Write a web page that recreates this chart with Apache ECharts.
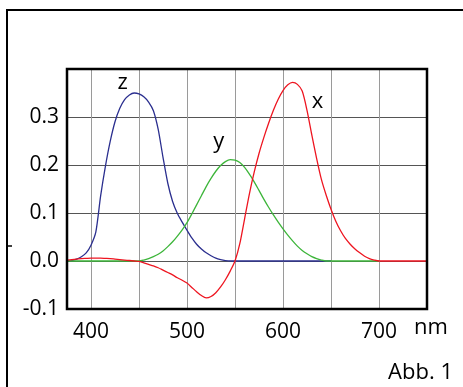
<!DOCTYPE html>
<html>
<head>
<meta charset="utf-8">
<script src="https://cdn.jsdelivr.net/npm/echarts@6/dist/echarts.min.js"></script>
<style>
html,body{margin:0;padding:0;background:#fff;}
#chart{width:463px;height:387px;}
</style>
</head>
<body>
<div id="chart"></div>
<script>
// Wavelengths (nm), 5 nm steps
const wavelengths = [];
for (let w = 375; w <= 750; w += 5) wavelengths.push(w);

// z (blue), 375..650
const zValues = [
  0.000, 0.001, 0.004, 0.009, 0.017, 0.033, 0.060, 0.135, 0.197, 0.249,
  0.290, 0.318, 0.336, 0.346, 0.350, 0.348, 0.342, 0.331, 0.313, 0.274,
  0.216, 0.162, 0.124, 0.099, 0.081, 0.064, 0.048, 0.035, 0.025, 0.017,
  0.011, 0.006, 0.003, 0.001, 0.000, 0.000, 0.000, 0.000, 0.000, 0.000,
  0.000, 0.000, 0.000, 0.000, 0.000, 0.000, 0.000, 0.000, 0.000, 0.000,
  0.000, 0.000, 0.000, 0.000, 0.000, 0.000
];
// y (green), 375..700
const yValues = [
  0.000, 0.000, 0.000, 0.000, 0.000, 0.000, 0.000, 0.000, 0.000, 0.000,
  0.000, 0.000, 0.000, 0.000, 0.000, 0.000, 0.002, 0.005, 0.009, 0.014,
  0.021, 0.030, 0.040, 0.052, 0.065, 0.080, 0.098, 0.117, 0.136, 0.155,
  0.172, 0.187, 0.199, 0.207, 0.211, 0.210, 0.205, 0.195, 0.181, 0.165,
  0.147, 0.129, 0.112, 0.096, 0.081, 0.067, 0.054, 0.042, 0.031, 0.022,
  0.015, 0.009, 0.005, 0.002, 0.000, 0.000, 0.000, 0.000, 0.000, 0.000,
  0.000, 0.000, 0.000, 0.000, 0.000, 0.000
];
// x (red), 375..750
const xValues = [
  0.002, 0.003, 0.004, 0.005, 0.0055, 0.006, 0.006, 0.006, 0.0055, 0.005,
  0.004, 0.003, 0.002, 0.001, 0.000, -0.001, -0.004, -0.007, -0.010, -0.014,
  -0.019, -0.024, -0.029, -0.035, -0.040, -0.046, -0.055, -0.064, -0.072, -0.077,
  -0.074, -0.066, -0.054, -0.039, -0.021, 0.000, 0.036, 0.088, 0.140, 0.185,
  0.224, 0.257, 0.287, 0.314, 0.337, 0.355, 0.367, 0.372, 0.368, 0.354,
  0.314, 0.263, 0.214, 0.170, 0.137, 0.108, 0.083, 0.063, 0.047, 0.035,
  0.025, 0.017, 0.010, 0.005, 0.002, 0.000, 0.000, 0.000, 0.000, 0.000,
  0.000, 0.000, 0.000, 0.000, 0.000, 0.000
];

const xLabelValues = [400, 500, 600, 700];
const yTickLabels = ['-0.1', '0.0', '0.1', '0.2', '0.3'];
const curveLabelPos = { z: [433, 0.371], y: [533, 0.248], x: [636, 0.332] };

const FONT = '"Open Sans", "DejaVu Sans", sans-serif';
const COLORS = { z: '#2b2f8f', y: '#3db53a', x: '#ee1520' };

function pairs(vals) {
  return wavelengths.map((w, i) => [w, vals[i]]).filter(p => p[1] !== undefined);
}
function mkSeries(name, vals) {
  return {
    name: name, type: 'line', data: pairs(vals),
    showSymbol: false, symbol: 'none', smooth: 0.25,
    lineStyle: { color: COLORS[name], width: 1.3 },
    itemStyle: { color: COLORS[name] },
    z: 3, silent: true, animation: false,
    markPoint: {
      symbol: 'circle', symbolSize: 1, silent: true, animation: false,
      itemStyle: { color: 'transparent' },
      data: [{
        coord: curveLabelPos[name],
        label: { show: true, position: 'inside', formatter: name,
                 fontFamily: FONT, fontSize: 22, color: '#000' }
      }]
    }
  };
}

const chart = echarts.init(document.getElementById('chart'), null, { renderer: 'canvas' });
chart.setOption({
  backgroundColor: '#fff',
  animation: false,
  grid: { left: 67, top: 69, width: 360, height: 240, show: true,
          borderColor: '#000', borderWidth: 2.5, backgroundColor: 'transparent', z: 4 },
  xAxis: {
    type: 'value', min: 375, max: 750, interval: 25,
    axisLine: { show: false }, axisTick: { show: false },
    axisLabel: {
      margin: 13, fontFamily: FONT, fontSize: 21, color: '#000',
      formatter: v => xLabelValues.indexOf(v) >= 0 ? String(v) : ''
    },
    splitLine: { show: true, lineStyle: { color: ['transparent', '#9a9a9a'], width: 1 } }
  },
  yAxis: {
    type: 'value', min: -0.1, max: 0.4, interval: 0.1,
    axisLine: { show: false }, axisTick: { show: false },
    axisLabel: {
      margin: 8, fontFamily: FONT, fontSize: 21, color: '#000',
      formatter: v => {
        const s = (Math.round(v * 10) / 10).toFixed(1);
        return yTickLabels.indexOf(s) >= 0 ? s : '';
      }
    },
    splitLine: { show: true, lineStyle: { color: '#555', width: 1 } }
  },
  series: [
    mkSeries('z', zValues),
    mkSeries('y', yValues),
    mkSeries('x', xValues)
  ],
  graphic: [
    { type: 'rect', shape: { x: 7, y: 10, width: 520, height: 420 },
      style: { fill: 'none', stroke: '#000', lineWidth: 2 }, silent: true },
    { type: 'line', shape: { x1: 8, y1: 246, x2: 12, y2: 246 },
      style: { stroke: '#000', lineWidth: 1.5 }, silent: true },
    { type: 'text', x: 414, y: 328,
      style: { text: 'nm', font: '22px ' + FONT, fill: '#000',
               textAlign: 'left', textVerticalAlign: 'middle' }, silent: true },
    { type: 'text', x: 453, y: 373,
      style: { text: 'Abb. 1', font: '22px ' + FONT, fill: '#000',
               textAlign: 'right', textVerticalAlign: 'middle' }, silent: true }
  ]
});
</script>
</body>
</html>
